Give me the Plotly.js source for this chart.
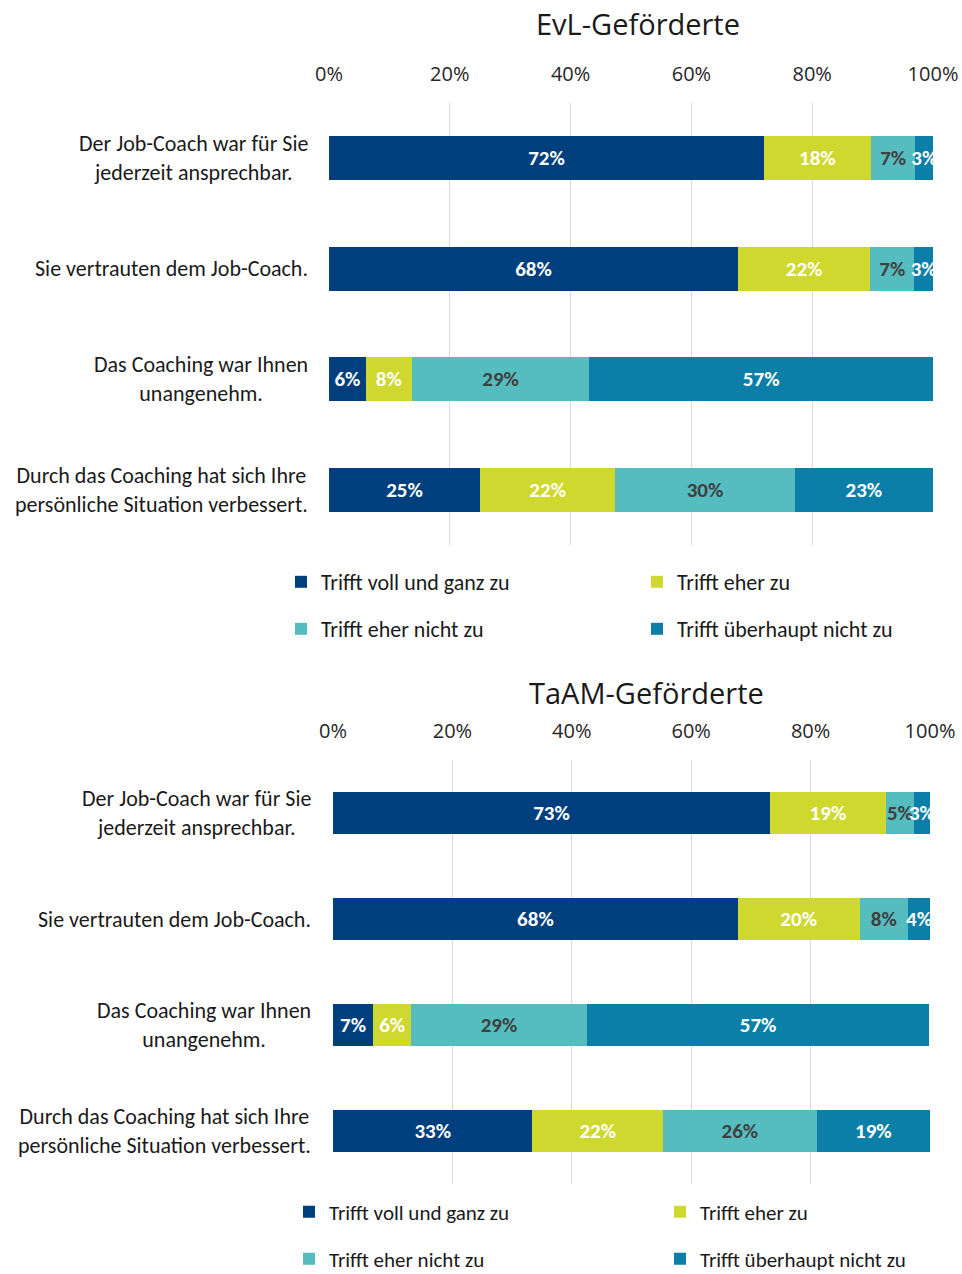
<!DOCTYPE html>
<html>
<head>
<meta charset="utf-8">
<script src="https://cdn.plot.ly/plotly-3.0.1.min.js"></script>
<style>html,body{margin:0;padding:0;background:#fff;}#chart{width:962px;height:1274px;}</style>
</head>
<body>
<div id="chart"></div>
<script>
// ---- data ----
const categories = [
  "Der Job-Coach war für Sie<br>jederzeit ansprechbar.",
  "Sie vertrauten dem Job-Coach.",
  "Das Coaching war Ihnen<br>unangenehm.",
  "Durch das Coaching hat sich Ihre<br>persönliche Situation verbessert."
];
const seriesNames = ["Trifft voll und ganz zu", "Trifft eher zu", "Trifft eher nicht zu", "Trifft überhaupt nicht zu"];
const chartTitles = ["EvL-Geförderte", "TaAM-Geförderte"];
const tickValues = [0, 20, 40, 60, 80, 100];
const tickLabels = ["0%", "20%", "40%", "60%", "80%", "100%"];

const evlVoll = [72, 67.7, 6.1, 25];
const evlEher = [17.7, 21.9, 7.6, 22.4];
const evlEherNicht = [7.4, 7.3, 29.4, 29.7];
const evlUeberhaupt = [2.9, 3.1, 56.9, 22.9];

const taamVoll = [73.2, 67.8, 6.7, 33.4];
const taamEher = [19.4, 20.4, 6.4, 21.9];
const taamEherNicht = [4.7, 8.1, 29.4, 25.7];
const taamUeberhaupt = [2.7, 3.7, 57.4, 19.0];

// ---- styling ----
const colors = ["#003f7d", "#cfd82f", "#55bdbf", "#0b7fa8"];
const textColors = ["#ffffff", "#ffffff", "#404040", "#ffffff"];
const FONT = "Carlito, Calibri, Lato, sans-serif";
const FONT2 = "'Segoe UI', 'Open Sans', sans-serif";
const W = 962, H = 1274, ML = 10, MR = 10;
const px = x => (x - ML) / (W - ML - MR);
const py = y => 1 - y / H;

const groups = [
  {data: [evlVoll, evlEher, evlEherNicht, evlUeberhaupt], xa: "x", ya: "y", legendBase: 1},
  {data: [taamVoll, taamEher, taamEherNicht, taamUeberhaupt], xa: "x2", ya: "y2", legendBase: 5}
];

const traces = [];
groups.forEach(g => {
  g.data.forEach((vals, i) => {
    const ln = g.legendBase + i;
    traces.push({
      type: "bar",
      orientation: "h",
      name: seriesNames[i],
      x: vals,
      y: categories,
      xaxis: g.xa,
      yaxis: g.ya,
      marker: {color: colors[i], line: {width: 0}},
      text: vals.map(v => Math.round(v) + "%"),
      textposition: "inside",
      insidetextanchor: "middle",
      insidetextorientation: "horizontal",
      constraintext: "none",
      textfont: {family: FONT, size: 21, color: textColors[i], weight: "bold"},
      hoverinfo: "skip",
      legend: ln === 1 ? "legend" : "legend" + ln,
      showlegend: true
    });
  });
});

function legendAt(xpx, ypx, fs) {
  return {
    x: px(xpx), y: py(ypx), xanchor: "left", yanchor: "middle",
    orientation: "h", bgcolor: "rgba(0,0,0,0)", borderwidth: 0,
    font: {family: FONT, size: fs || 22, color: "#1a1a1a"}
  };
}

const xaxisBase = {
  range: [0, 100], side: "top", tickvals: tickValues, ticktext: tickLabels,
  showgrid: true, gridcolor: "#d9d9d9", gridwidth: 1.3, zeroline: false, showline: false,
  ticks: "", ticklabelstandoff: 17, fixedrange: true,
  tickfont: {family: FONT2, size: 20, color: "#262626"}
};
const yaxisBase = {
  type: "category", categoryorder: "array", categoryarray: categories,
  autorange: "reversed", showticklabels: false, showgrid: false, zeroline: false, showline: false, ticks: "", fixedrange: true
};

const annotations = [];
categories.forEach(c => {
  annotations.push({xref: "paper", yref: "y", x: px(310), y: c, xanchor: "right", yanchor: "middle",
    text: c, showarrow: false, align: "center", font: {family: FONT, size: 22, color: "#1a1a1a"}});
  annotations.push({xref: "paper", yref: "y2", x: px(313), y: c, xanchor: "right", yanchor: "middle",
    text: c, showarrow: false, align: "center", font: {family: FONT, size: 22, color: "#1a1a1a"}});
});
annotations.push({xref: "paper", yref: "paper", x: px(646), y: py(692), xanchor: "center", yanchor: "middle",
  text: chartTitles[1], showarrow: false, font: {family: FONT2, size: 29, color: "#1a1a1a"}});

const layout = {
  width: W, height: H,
  margin: {l: ML, r: MR, t: 0, b: 0, pad: 0, autoexpand: false},
  paper_bgcolor: "#ffffff", plot_bgcolor: "#ffffff",
  barmode: "stack", bargap: 0.6,
  font: {family: FONT, color: "#1a1a1a"},
  title: {text: chartTitles[0], x: px(638), xref: "paper", xanchor: "center", y: py(25), yref: "container", yanchor: "middle",
    font: {family: FONT2, size: 29, color: "#1a1a1a"}},
  xaxis: Object.assign({}, xaxisBase, {domain: [px(329), px(933)], anchor: "y"}),
  yaxis: Object.assign({}, yaxisBase, {domain: [py(545), py(103)], anchor: "x"}),
  xaxis2: Object.assign({}, xaxisBase, {domain: [px(333), px(930)], anchor: "y2"}),
  yaxis2: Object.assign({}, yaxisBase, {domain: [py(1184), py(760)], anchor: "x2"}),
  legend: legendAt(281, 582),
  legend2: legendAt(637, 582),
  legend3: legendAt(281, 629),
  legend4: legendAt(637, 629),
  legend5: legendAt(289, 1212, 21),
  legend6: legendAt(660, 1212, 21),
  legend7: legendAt(289, 1259, 21),
  legend8: legendAt(660, 1259, 21),
  annotations: annotations,
  showlegend: true
};

Plotly.newPlot("chart", traces, layout, {displayModeBar: false, staticPlot: true});
</script>
</body>
</html>
